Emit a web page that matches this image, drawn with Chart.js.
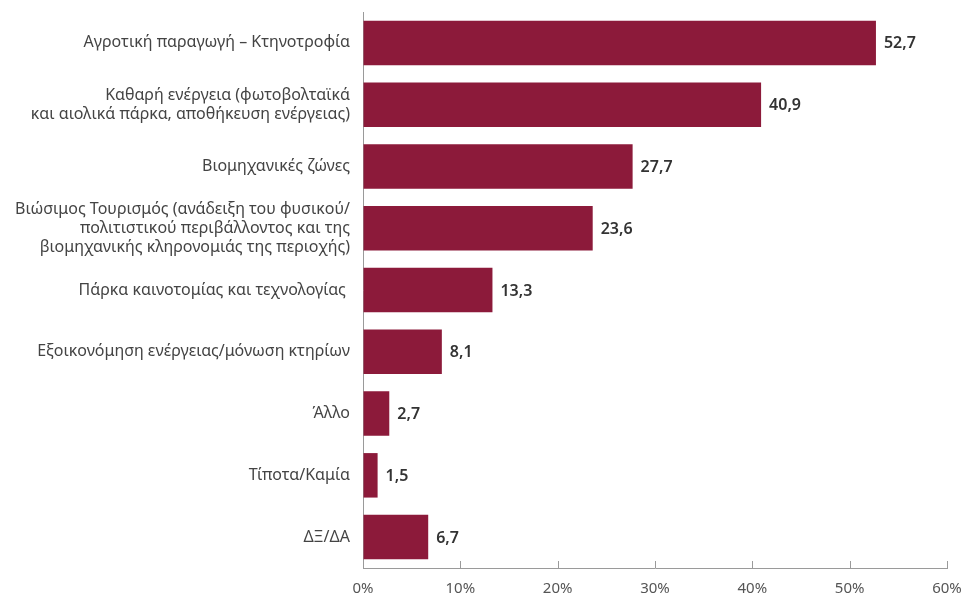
<!DOCTYPE html>
<html lang="el">
<head>
    <meta charset="UTF-8">
    <title>Chart</title>
    <script src="https://cdn.jsdelivr.net/npm/chart.js"></script>
    <style>
        html, body { margin: 0; padding: 0; background: #fff; }
        #wrap { width: 968px; height: 598px; }
    </style>
</head>
<body>
    <div id="wrap"><canvas id="chart"></canvas></div>

    <script>
        // κατηγορίες και τιμές
        const categories = [
            'Αγροτική παραγωγή – Κτηνοτροφία',
            ['Καθαρή ενέργεια (φωτοβολταϊκά', 'και αιολικά πάρκα, αποθήκευση ενέργειας)'],
            'Βιομηχανικές ζώνες',
            ['Βιώσιμος Τουρισμός (ανάδειξη του φυσικού/', 'πολιτιστικού περιβάλλοντος και της', 'βιομηχανικής κληρονομιάς της περιοχής)'],
            'Πάρκα καινοτομίας και τεχνολογίας ',
            'Εξοικονόμηση ενέργειας/μόνωση κτηρίων',
            'Άλλο',
            'Τίποτα/Καμία',
            'ΔΞ/ΔΑ'
        ];
        const values = [52.7, 40.9, 27.7, 23.6, 13.3, 8.1, 2.7, 1.5, 6.7];
        const xTicks = [0, 10, 20, 30, 40, 50, 60];

        const FONT = '"Noto Sans", sans-serif';

        // ετικέτες τιμών δίπλα στις μπάρες
        const valueLabels = {
            id: 'valueLabels',
            afterDatasetsDraw(chart) {
                const ctx = chart.ctx;
                const meta = chart.getDatasetMeta(0);
                ctx.save();
                ctx.font = '600 16px ' + FONT;
                ctx.fillStyle = '#333333';
                ctx.textAlign = 'left';
                ctx.textBaseline = 'middle';
                meta.data.forEach((bar, i) => {
                    ctx.fillText(values[i].toFixed(1).replace('.', ','), bar.x + 8, bar.y + 1);
                });
                ctx.restore();
            }
        };

        // μικρά ticks προς τα πάνω στον άξονα x
        const innerTicks = {
            id: 'innerTicks',
            afterDraw(chart) {
                const ctx = chart.ctx;
                const x = chart.scales.x;
                const bottom = chart.chartArea.bottom;
                ctx.save();
                ctx.strokeStyle = '#9a9a9a';
                ctx.lineWidth = 1;
                x.ticks.forEach((t, i) => {
                    const px = Math.round(x.getPixelForTick(i)) + 0.5;
                    ctx.beginPath();
                    ctx.moveTo(px, bottom - 7);
                    ctx.lineTo(px, bottom);
                    ctx.stroke();
                });
                ctx.restore();
            }
        };

        new Chart(document.getElementById('chart'), {
            type: 'bar',
            data: {
                labels: categories,
                datasets: [{
                    data: values,
                    backgroundColor: '#8c1a3a',
                    barPercentage: 0.72,
                    categoryPercentage: 1
                }]
            },
            options: {
                indexAxis: 'y',
                responsive: true,
                maintainAspectRatio: false,
                animation: false,
                layout: { padding: { top: 12, right: 21, left: 0, bottom: 0 } },
                plugins: {
                    legend: { display: false },
                    tooltip: { enabled: false }
                },
                scales: {
                    x: {
                        min: 0,
                        max: 60,
                        afterBuildTicks(scale) {
                            scale.ticks = xTicks.map(v => ({ value: v }));
                        },
                        afterFit(scale) {
                            scale.height = 30;
                            scale.paddingLeft = 0;
                            scale.paddingRight = 0;
                        },
                        grid: { display: true, drawOnChartArea: false, drawTicks: false },
                        border: { display: true, color: '#9a9a9a', width: 1 },
                        ticks: {
                            padding: 12,
                            color: '#555555',
                            font: { family: FONT, size: 15 },
                            callback: v => v + '%'
                        }
                    },
                    y: {
                        afterFit(scale) {
                            scale.width = 363;
                            scale.paddingTop = 0;
                            scale.paddingBottom = 0;
                        },
                        grid: { display: false, drawTicks: false },
                        border: { display: true, color: '#9a9a9a', width: 1 },
                        ticks: {
                            padding: 13,
                            color: '#444444',
                            font: { family: FONT, size: 16, lineHeight: 1.2 }
                        }
                    }
                }
            },
            plugins: [valueLabels, innerTicks]
        });
    </script>
</body>
</html>
